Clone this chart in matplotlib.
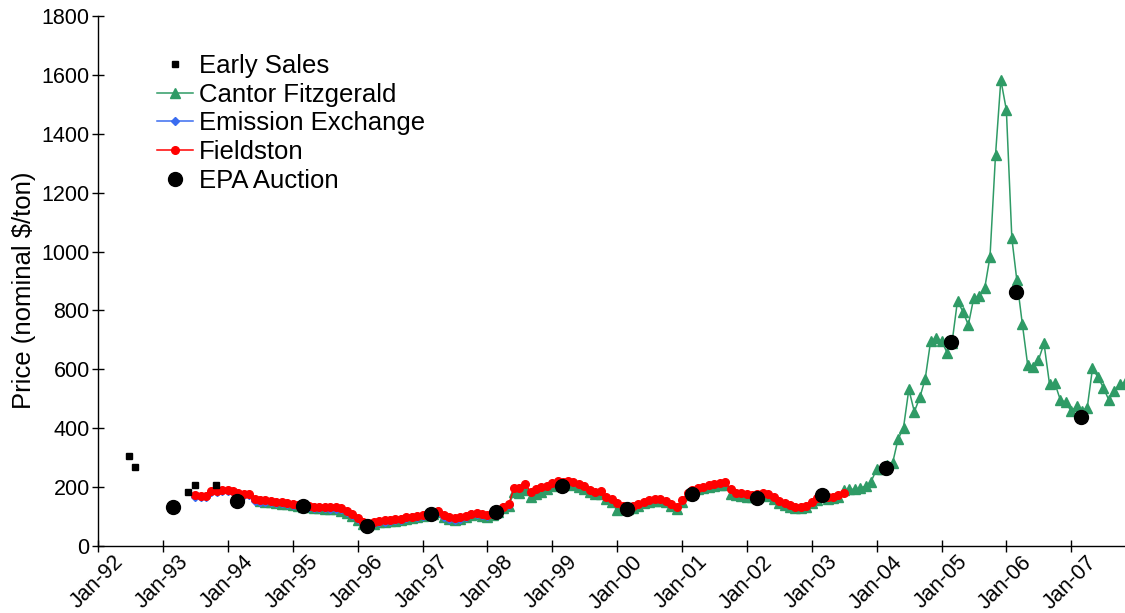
import matplotlib
matplotlib.use("Agg")
import matplotlib.pyplot as plt
import matplotlib.transforms as mtransforms
import pandas as pd

plt.rcParams['font.family'] = ['Liberation Sans', 'DejaVu Sans']

# ---------------- data ----------------
early_dates = ["1992-06-23", "1992-07-26", "1993-05-21", "1993-06-28", "1993-10-25"]
early_vals = [306, 268, 183, 207, 207]

epa_dates = ["1993-02-25", "1994-02-22", "1995-02-28", "1996-02-25", "1997-02-20",
             "1998-02-21", "1999-02-28", "2000-02-24", "2001-02-25", "2002-02-26",
             "2003-02-28", "2004-02-22", "2005-02-24", "2006-02-25", "2007-02-26"]
epa_vals = [132, 153, 136, 68, 110, 115, 204, 126, 177, 163, 173, 265, 693, 862, 438]

fieldston_start = "1993-07-01"
fieldston_vals = [
    173, 170, 170, 187, 187, 190,                                  # 1993 Jul-Dec
    190, 186, 179, 177, 177, 158, 156, 156, 154, 150, 150, 146,    # 1994
    143, 140, 139, 136, 134, 134, 132, 131, 131, 128, 120, 110,    # 1995
    95, 82, 77, 82, 85, 87, 88, 91, 93, 97, 100, 103,              # 1996
    106, 108, 112, 120, 104, 97, 94, 97, 103, 110, 113, 107,       # 1997
    104, 110, 122, 134, 141, 198, 196, 212, 184, 192, 199, 205,    # 1998
    215, 222, 218, 221, 216, 210, 203, 190, 184, 188, 167, 158,    # 1999
    146, 137, 134, 136, 143, 151, 156, 158, 158, 154, 143, 131,    # 2000
    155, 180, 190, 198, 202, 207, 211, 215, 217, 192, 181, 179,    # 2001
    177, 174, 176, 181, 178, 166, 152, 145, 139, 134, 131, 135,    # 2002
    150, 163, 176, 165, 168, 173, 181,                             # 2003 Jan-Jul
]

emission_start = "1993-07-01"
emission_vals = [
    168, 165, 166, 182, 183, 186,                                  # 1993 Jul-Dec
    186, 182, 175, 172, 172, 153, 151, 150, 149, 146, 145, 142,    # 1994
    139, 136, 135, 132, 130, 130, 128, 127, 127, 124, 116, 106,    # 1995
    91, 78, 73, 78, 81, 83, 85, 88, 90, 94, 97, 100,               # 1996
    103, 105, 109, 116, 100, 93, 90, 93, 100, 107, 110, 104,       # 1997
    101, 107, 119, 131, 138,                                       # 1998 Jan-May
]

cantor_start = "1994-07-01"
cantor_vals = [
    152, 150, 148, 145, 144, 141,                                  # 1994 Jul-Dec
    138, 135, 133, 131, 129, 128, 127, 125, 124, 120, 112, 103,    # 1995
    88, 76, 72, 76, 80, 82, 84, 86, 88, 92, 95, 98,                # 1996
    102, 104, 108, 114, 98, 92, 90, 92, 98, 105, 108, 103,         # 1997
    100, 105, 116, 128, 136, 185, 180, 190, 168, 175, 185, 192,    # 1998
    203, 210, 208, 210, 206, 200, 194, 182, 176, 178, 158, 148,    # 1999
    122, 128, 126, 130, 137, 145, 150, 152, 152, 148, 137, 125,    # 2000
    150, 173, 184, 192, 196, 200, 204, 207, 208, 178, 172, 170,    # 2001
    168, 166, 168, 172, 170, 158, 145, 139, 134, 130, 128, 131,    # 2002
    145, 157, 170, 160, 163, 168, 190, 192, 193, 196, 204, 218,    # 2003
    260, 262, 275, 283, 362, 402, 532, 456, 505, 567, 697, 705,    # 2004
    697, 657, 690, 833, 796, 751, 841, 849, 875, 983, 1328, 1583,  # 2005
    1481, 1045, 903, 754, 615, 609, 632, 688, 550, 553, 496, 488,  # 2006
    458, 475, 460, 468, 603, 573, 538, 496, 527, 550, 555,         # 2007 Jan-Nov
]

year_ticks = list(range(1992, 2008))
y_ticks = [0, 200, 400, 600, 800, 1000, 1200, 1400, 1600, 1800]

# ---------------- plot ----------------
green = '#2f9b66'
blue = '#3a6cf0'
red = '#ff0000'

fig = plt.figure(figsize=(11.25, 6.13), dpi=100)
ax = fig.add_axes([98 / 1125, 1 - 546 / 613, 1027 / 1125, 530 / 613])

cantor_x = pd.date_range(cantor_start, periods=len(cantor_vals), freq='MS')
emission_x = pd.date_range(emission_start, periods=len(emission_vals), freq='MS')
fieldston_x = pd.date_range(fieldston_start, periods=len(fieldston_vals), freq='MS')

ax.plot(pd.to_datetime(early_dates), early_vals, linestyle='none', marker='s',
        color='black', markersize=5, label='Early Sales', zorder=5)
ax.plot(cantor_x, cantor_vals, color=green, marker='^', markersize=6.5, linewidth=1.1,
        label='Cantor Fitzgerald', zorder=2)
ax.plot(emission_x, emission_vals, color=blue, marker='D', markersize=4, linewidth=1.1,
        label='Emission Exchange', zorder=3)
ax.plot(fieldston_x, fieldston_vals, color=red, marker='o', markersize=5.5, linewidth=1.1,
        label='Fieldston', zorder=4)
ax.plot(pd.to_datetime(epa_dates), epa_vals, linestyle='none', marker='o',
        color='black', markersize=10, label='EPA Auction', zorder=6)

ax.set_xlim(pd.Timestamp("1992-01-01"), pd.Timestamp("2007-10-31"))
ax.set_ylim(0, 1800)

ax.set_xticks([pd.Timestamp(f"{y}-01-01") for y in year_ticks])
ax.set_xticklabels([f"Jan-{str(y)[2:]}" for y in year_ticks], rotation=45,
                   ha='right', va='top', rotation_mode='anchor', fontsize=15.5)
ax.set_yticks(y_ticks)
ax.set_yticklabels([str(v) for v in y_ticks], fontsize=15.5)
ax.tick_params(axis='both', direction='inout', length=8, width=1, color='black')
ax.tick_params(axis='x', pad=0)
ax.tick_params(axis='y', pad=2)

offset = mtransforms.ScaledTranslation(15 / 100, 0, fig.dpi_scale_trans)
for lab in ax.get_xticklabels():
    lab.set_transform(lab.get_transform() + offset)

for s in ['top', 'right']:
    ax.spines[s].set_visible(False)
for s in ['left', 'bottom']:
    ax.spines[s].set_linewidth(1)
    ax.spines[s].set_color('black')

ax.set_ylabel('Price (nominal $/ton)', fontsize=18.5)
ax.yaxis.set_label_coords(-0.060, 0.483)

leg = ax.legend(loc='upper left', bbox_to_anchor=(0.0574, 0.928), frameon=False,
                fontsize=18.5, borderpad=0, borderaxespad=0, labelspacing=0.18,
                handlelength=1.4, handletextpad=0.23)

fig.savefig('out.png', dpi=100)
